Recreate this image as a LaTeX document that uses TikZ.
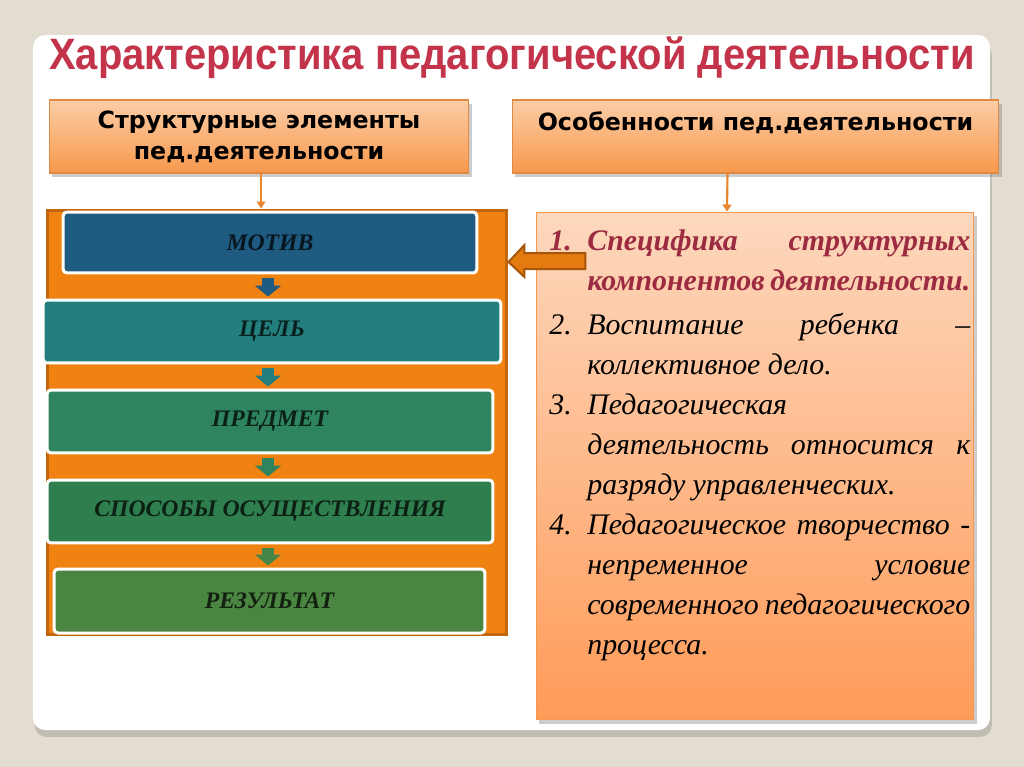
\documentclass[tikz,border=0pt]{standalone}
\usepackage{fontspec}
\usepackage{graphicx}
\setmainfont{Liberation Serif}
\newfontfamily\headfont{Liberation Sans}
\newfontfamily\boxfont{DejaVu Sans}
\usepackage{tikz}
\usetikzlibrary{arrows.meta,calc,shadows}

\newlength\px
\setlength\px{0.02cm}
\newcommand\featitem[1]{\par\noindent\hangindent=38\px\hangafter=1\makebox[38\px][l]{#1}}

\definecolor{bgbeige}{HTML}{E3DDD1}
\definecolor{titlered}{HTML}{C3344A}
\definecolor{peachtop}{HTML}{FCCDA6}
\definecolor{peachbot}{HTML}{F7984C}
\definecolor{frameorange}{HTML}{EF8211}
\definecolor{framedark}{HTML}{C2650C}
\definecolor{listtop}{HTML}{FDD8BE}
\definecolor{listbot}{HTML}{FF9B58}
\definecolor{motivc}{HTML}{1F5A80}
\definecolor{celc}{HTML}{227F7D}
\definecolor{predmetc}{HTML}{2E845E}
\definecolor{sposobc}{HTML}{2F7E4E}
\definecolor{rezultc}{HTML}{4A8641}
\definecolor{itemred}{HTML}{9C2B41}
\definecolor{linkorange}{HTML}{E8842A}

\tikzset{
  headbox/.style={draw=peachbot!90!black, line width=0.6pt,
    top color=peachtop, bottom color=peachbot,
    drop shadow={shadow xshift=1.5pt, shadow yshift=-2pt, opacity=0.4},
    font=\boxfont\bfseries\fontsize{13.5}{17.5}\selectfont, align=center,
    inner sep=0pt},
  stepbox/.style={draw=white, line width=0.06cm, rounded corners=0.08cm,
    font=\itshape\bfseries\fontsize{13.5}{16}\selectfont, inner sep=0pt},
  downarrow/.style={line width=0.24cm, -{Triangle[width=0.52cm,length=0.22cm]},
    shorten <=0.08cm, shorten >=0.04cm},
  link/.style={linkorange, line width=1.2pt, -{Triangle[width=5pt,length=4pt]}}
}

\begin{document}
\begin{tikzpicture}[x=0.02cm, y=-0.02cm]
  \useasboundingbox (0,0) rectangle (1024,767);
  % Slide background
  \fill[bgbeige] (0,0) rectangle (1024,767);
  \fill[white, rounded corners=0.24cm,
    drop shadow={shadow xshift=1pt, shadow yshift=-4pt, opacity=0.35}]
    (33,35) rectangle (990,730);

  % Title
  \node[text=titlered] (title) at (512,58)
    {\scalebox{0.91}[1]{\headfont\bfseries\fontsize{25}{28}\selectfont Характеристика педагогической деятельности}};

  % Head boxes
  \node[headbox, minimum width=8.4cm, minimum height=1.46cm] (struct) at (259,136.5)
    {Структурные элементы\\пед.деятельности};
  \node[headbox, minimum width=9.74cm, minimum height=1.46cm] (osob) at (755.5,136.5)
    {Особенности пед.деятельности\\\mbox{}};

  % Orange frame with the elements
  \node[fill=frameorange, draw=framedark, line width=0.06cm,
    minimum width=9.2cm, minimum height=8.5cm, inner sep=0pt] (frame) at (277,422.5) {};

  \node[stepbox, fill=motivc, text=motivc!25!black,
    minimum width=8.28cm, minimum height=1.22cm] (motiv) at (270,242.5) {МОТИВ};
  \node[stepbox, fill=celc, text=celc!25!black,
    minimum width=9.16cm, minimum height=1.26cm] (cel) at (272,331.5) {ЦЕЛЬ};
  \node[stepbox, fill=predmetc, text=predmetc!25!black,
    minimum width=8.92cm, minimum height=1.26cm] (predmet) at (270,421.5) {ПРЕДМЕТ};
  \node[stepbox, fill=sposobc, text=sposobc!25!black,
    minimum width=8.92cm, minimum height=1.26cm] (sposob) at (270,511.5) {СПОСОБЫ ОСУЩЕСТВЛЕНИЯ};
  \node[stepbox, fill=rezultc, text=rezultc!25!black,
    minimum width=8.62cm, minimum height=1.28cm] (rezult) at (269.5,601) {РЕЗУЛЬТАТ};

  \coordinate (axis) at (268,0);
  \draw[downarrow, motivc] (motiv.south -| axis) -- (cel.north -| axis);
  \draw[downarrow, celc] (cel.south -| axis) -- (predmet.north -| axis);
  \draw[downarrow, predmetc] (predmet.south -| axis) -- (sposob.north -| axis);
  \draw[downarrow, rezultc!90!celc] (sposob.south -| axis) -- (rezult.north -| axis);

  % List of features
  \node[draw=peachbot, line width=0.6pt, top color=listtop, bottom color=listbot,
    drop shadow={shadow xshift=1.5pt, shadow yshift=-2.5pt, opacity=0.4},
    minimum width=8.76cm, minimum height=10.16cm, inner sep=0pt] (feat) at (755,466) {};

  \node[anchor=north west, text width=8.42cm, align=justify, inner sep=0pt,
    font=\itshape\fontsize{17}{22.8}\selectfont] (featlist) at (549,210)
  {%
    {\color{itemred}\bfseries
    \featitem{1.}Специфика структурных\linebreak компонентов деятельности.\par}
    \vspace{2pt}
    \featitem{2.}Воспитание ребенка –\linebreak коллективное дело.
    \featitem{3.}Педагогическая\newline деятельность относится к\linebreak разряду управленческих.
    \featitem{4.}Педагогическое творчество -\linebreak непременное условие\linebreak современного педагогического\linebreak процесса.\par
  };

  % Connectors
  \coordinate (leftlink) at (261,0);
  \draw[link] (struct.south -| leftlink) -- (frame.north -| leftlink);
  \draw[link] ($(osob.south)+(-28,0)$) -- ($(feat.north)+(-28,0)$);

  % Block arrow pointing to the frame
  \coordinate (arrowrow) at (0,262);
  \coordinate (tip) at (frame.east |- arrowrow);
  \draw[fill=frameorange!95!black, draw=framedark!85!black, line width=0.04cm, line join=miter]
    (tip) -- ++(16,-17) -- ++(0,8) -- ++(61,0) -- ++(0,16) -- ++(-61,0) -- ++(0,8) -- cycle;
\end{tikzpicture}
\end{document}
